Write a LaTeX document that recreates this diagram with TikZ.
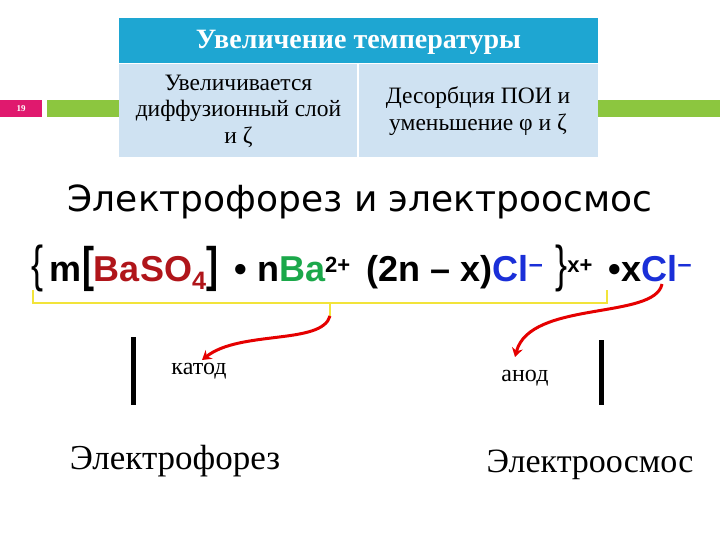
\documentclass[tikz,border=0pt]{standalone}
\usepackage{fontspec}
\setmainfont{Liberation Serif}
\newfontfamily\arialf{Liberation Sans}
\newfontfamily\dejav{DejaVu Sans}
\usetikzlibrary{arrows.meta}
\definecolor{hdr}{HTML}{1EA6D2}
\definecolor{cellb}{HTML}{CFE2F2}
\definecolor{grn}{HTML}{8CC63F}
\definecolor{pnk}{HTML}{E0196E}
\definecolor{dred}{HTML}{B0151A}
\definecolor{ygreen}{HTML}{1BA84A}
\definecolor{clb}{HTML}{1A2FD8}
\definecolor{ylw}{HTML}{F2E43A}
\tikzset{celltxt/.style={font=\fontsize{23.5}{26.5}\selectfont, align=center},
 bar/.style={line width=5pt},
 redarr/.style={red!90!black, line width=3pt, -{Stealth[length=9pt,width=11pt]}},
 lbl/.style={font=\fontsize{24}{26}\selectfont}}
\begin{document}
\begin{tikzpicture}[x=1pt,y=-1pt]
\useasboundingbox (0,0) rectangle (720,540);
\fill[white] (0,0) rectangle (720,540);
\fill[grn] (47,100) rectangle (720,117);
\fill[pnk] (0,100) rectangle (42,117);
\node[text=white, font=\fontsize{9}{10}\selectfont\bfseries] (num) at (21,108.5) {19};
\fill[hdr] (119,18) rectangle (598,63);
\fill[cellb] (119,64) rectangle (598,157);
\draw[white, line width=1.2pt] (119,63.5) -- (598,63.5);
\draw[white, line width=1.2pt] (358,64) -- (358,157);
\node[text=white, font=\fontsize{28}{30}\selectfont\bfseries] (hd) at (358.5,42) {Увеличение температуры};
\node[celltxt] (c1) at (238.5,111) {Увеличивается\\диффузионный слой\\и ζ};
\node[celltxt] (c2) at (478,111) {Десорбция ПОИ и\\уменьшение φ и ζ};
\node[font=\dejav\fontsize{36}{38}\selectfont] (title) at (360,202) {Электрофорез и электроосмос};
\node[font=\arialf\bfseries\fontsize{36}{38}\selectfont, inner sep=0] (formula) at (362,268)
 {{\fontseries{m}\selectfont\scalebox{1}[1.4]{\{}}\,m\scalebox{1}[1.35]{[}\textcolor{dred}{BaSO\textsubscript{4}}\scalebox{1}[1.35]{]}\,
 • n\textcolor{ygreen}{Ba}\textsuperscript{\fontsize{22}{24}\selectfont 2+} \,(2n – x)\textcolor{clb}{Cl\textsuperscript{–}}\,\,{\fontseries{m}\selectfont\scalebox{1}[1.4]{\}}}\textsuperscript{\fontsize{22}{24}\selectfont x+} \,•x\textcolor{clb}{Cl\textsuperscript{–}}};
\draw[ylw, line width=1.5pt] (33,290) -- (33,303) -- (607,303) -- (607,290);
\coordinate (tick) at (330,316);
\draw[ylw, line width=1.5pt] (330,303) -- (tick);
\coordinate (cl) at (662,284);
\coordinate (k) at (202,360);
\coordinate (a) at (515,357);
\draw[redarr] (tick) .. controls (322,345) and (240,330) .. (k);
\draw[redarr] (cl) .. controls (655,320) and (530,300) .. (a);
\draw[bar] (133,337) -- (133,405);
\draw[bar] (601,340) -- (601,405);
\node[lbl] (kat) at (199,371) {катод};
\node[lbl] (an) at (525,378) {анод};
\node[font=\fontsize{35}{38}\selectfont] (ef) at (175,461) {Электрофорез};
\node[font=\fontsize{34}{38}\selectfont] (eo) at (590,465) {Электроосмос};
\end{tikzpicture}
\end{document}
